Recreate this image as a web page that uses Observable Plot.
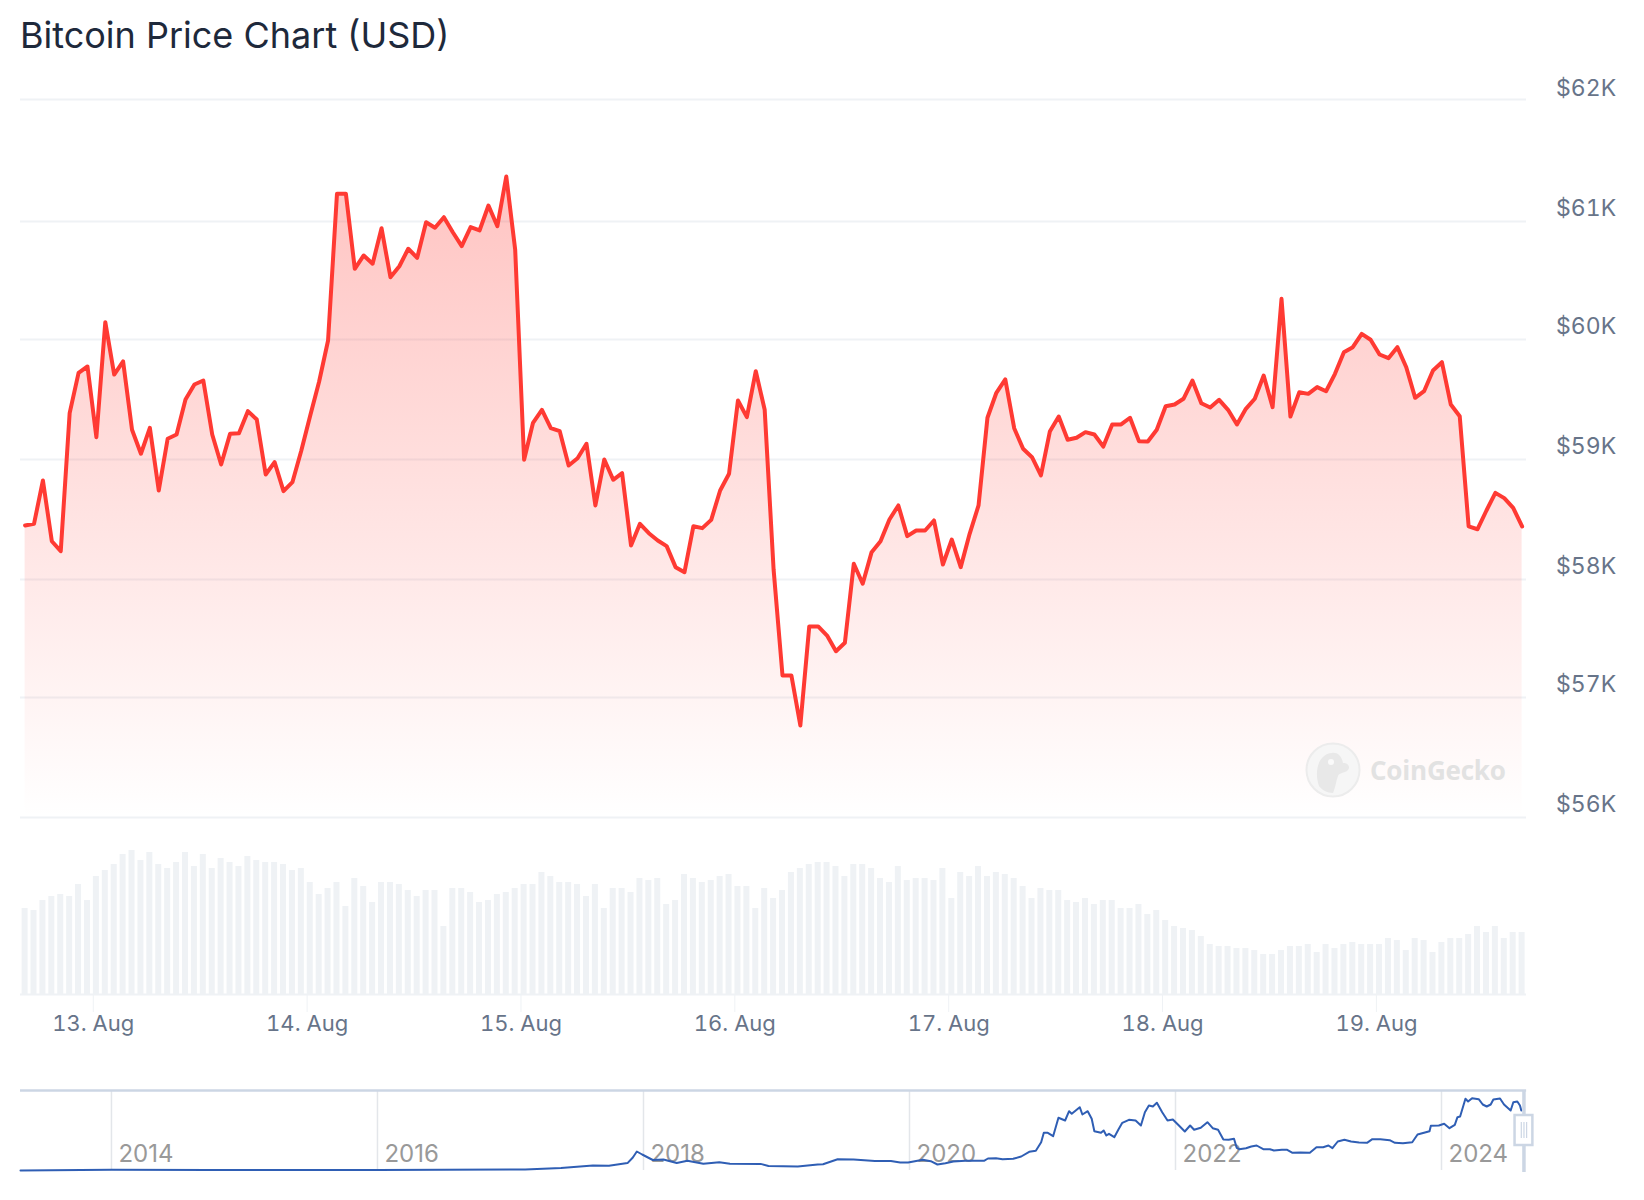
<!DOCTYPE html>
<html>
<head>
<meta charset="utf-8">
<title>Bitcoin Price Chart (USD)</title>
<script src="https://cdn.jsdelivr.net/npm/d3@7"></script>
<script src="https://cdn.jsdelivr.net/npm/@observablehq/plot@0.6"></script>
<style>
  html, body { margin: 0; padding: 0; background: #fff; overflow: hidden; }
  #wrap { position: relative; width: 1644px; height: 1200px; font-family: Inter, sans-serif; }
  #title { height: 70px; box-sizing: border-box; padding: 13px 0 0 20px; font-size: 36px; line-height: 44px; color: #1e293b; font-weight: 400; }
  #mark { position: absolute; left: 1305px; top: 742px; width: 210px; height: 56px; display: flex; align-items: center; }
  #mark span { font-family: "Open Sans", sans-serif; font-weight: 700; font-size: 26px; color: #e2e2e2; margin-left: 9px; letter-spacing: -0.2px; }
</style>
</head>
<body>
<div id="wrap">
  <div id="title">Bitcoin Price Chart (USD)</div>
  <div id="price"></div>
  <div id="volume"></div>
  <div id="navigator"></div>
  <div id="mark">
    <svg width="56" height="56" viewBox="0 0 56 56">
      <circle cx="28" cy="28" r="26.5" fill="#f6f6f6" stroke="#ececec" stroke-width="2"/>
      <path d="M14 44 C9 30 13 12 27 11 C33 10 37 15 38 21 C44 21 46 26 42 29 C38 31 34 31 33 34 C31 39 31 44 28 51 C22 51 17 48 14 44 Z" fill="#e8e8e8"/>
      <circle cx="26" cy="20" r="3" fill="#fafafa"/>
    </svg>
    <span>CoinGecko</span>
  </div>
</div>
<script>
const title = "Bitcoin Price Chart (USD)";

// Hourly Bitcoin price, in thousands of USD
const priceK = [
58.45,58.464,58.825,58.319,58.236,59.386,59.722,59.775,59.186,60.147,59.708,59.817,59.248,59.048,59.264,58.742,59.173,59.208,59.5,59.625,
59.658,59.208,58.958,59.214,59.219,59.403,59.333,58.875,58.978,58.736,58.811,59.075,59.367,59.65,59.992,61.227,61.227,60.599,60.712,60.642,
60.943,60.528,60.621,60.769,60.692,60.994,60.947,61.035,60.909,60.791,60.952,60.924,61.131,60.96,61.369,60.76,58.998,59.306,59.414,59.261,
59.236,58.95,59.011,59.131,58.617,59.0,58.831,58.886,58.283,58.464,58.386,58.325,58.278,58.103,58.061,58.444,58.428,58.497,58.742,58.881,
59.492,59.353,59.736,59.414,58.083,57.186,57.186,56.767,57.602,57.602,57.525,57.392,57.464,58.131,57.964,58.228,58.319,58.5,58.617,58.361,
58.408,58.408,58.492,58.125,58.333,58.103,58.381,58.617,59.348,59.556,59.667,59.261,59.089,59.019,58.867,59.233,59.358,59.164,59.181,59.228,
59.208,59.108,59.292,59.292,59.348,59.153,59.15,59.248,59.444,59.458,59.506,59.658,59.469,59.433,59.497,59.414,59.292,59.422,59.506,59.7,
59.436,60.345,59.358,59.561,59.547,59.603,59.569,59.714,59.894,59.936,60.048,59.998,59.875,59.844,59.936,59.769,59.514,59.569,59.742,59.811,
59.458,59.361,58.442,58.419,58.575,58.722,58.678,58.597,58.442];

// Hourly volume, in relative units
const volume = [
86,84,94,98,100,98,110,94,118,124,130,140,144,134,142,130,126,132,142,128,
140,126,136,132,128,138,134,132,132,130,124,126,112,100,106,112,88,116,108,92,
112,112,110,104,98,104,104,68,106,106,102,92,94,100,102,106,110,110,122,118,
112,112,110,98,110,86,106,106,102,116,114,116,90,94,120,116,112,114,118,120,
108,108,86,106,96,104,122,126,130,132,132,128,118,130,130,126,116,112,128,114,
116,116,114,126,96,122,118,128,118,122,120,116,108,96,106,104,104,94,92,96,
90,94,94,86,86,90,80,84,74,68,66,64,58,50,48,48,46,46,44,40,
40,44,48,48,50,42,50,46,50,52,50,50,50,56,54,44,56,54,42,52,
56,56,60,68,62,68,56,62,62];

const yTicksK = [56, 57, 58, 59, 60, 61, 62];
const dayTickDates = [13, 14, 15, 16, 17, 18, 19];

// Navigator: all-time price, decimal year and thousands of USD
const navYears = [
2013.316,2014,2014.74,2016,2017.11,2017.38,2017.62,2017.74,2017.88,2017.92,2017.95,2017.99,2018.07,2018.15,2018.25,2018.33,2018.45,2018.57,2018.65,2018.88,
2018.94,2019.16,2019.31,2019.35,2019.46,2019.58,2019.74,2019.86,2019.93,2019.99,2020.04,2020.10,2020.16,2020.21,2020.27,2020.33,2020.42,2020.56,2020.59,2020.65,
2020.70,2020.78,2020.84,2020.90,2020.95,2020.99,2021.01,2021.04,2021.08,2021.12,2021.17,2021.20,2021.22,2021.25,2021.28,2021.30,2021.34,2021.37,2021.39,2021.44,
2021.46,2021.48,2021.50,2021.54,2021.57,2021.60,2021.65,2021.70,2021.74,2021.77,2021.80,2021.83,2021.86,2021.90,2021.94,2021.98,2022.02,2022.07,2022.11,2022.14,
2022.19,2022.24,2022.28,2022.32,2022.36,2022.40,2022.44,2022.46,2022.48,2022.53,2022.57,2022.61,2022.66,2022.71,2022.74,2022.80,2022.84,2022.88,2022.94,2023.01,
2023.06,2023.11,2023.15,2023.18,2023.22,2023.27,2023.32,2023.38,2023.44,2023.48,2023.54,2023.61,2023.65,2023.71,2023.78,2023.82,2023.91,2023.92,2023.98,2024.02,
2024.06,2024.10,2024.12,2024.14,2024.18,2024.20,2024.23,2024.28,2024.31,2024.34,2024.37,2024.39,2024.44,2024.47,2024.52,2024.54,2024.57,2024.59,2024.60];
const navPriceK = [
0.1,0.8,0.5,0.4,1,2.5,5,4.8,7.4,13,19,16,10.5,11,7.5,9.7,6.7,8.2,6.7,6.6,
4.5,4,6,6.3,11.3,11,9.4,9.4,8,8,9.3,10.7,9.3,6,7.3,9,9.7,9.7,12,12.3,
11.3,11.7,14,18.7,19.7,28.3,37.7,37.7,34.3,52.7,50,59.3,56.7,60,63.3,56,59.3,51.7,39.3,37.7,
40,35,36.7,33.3,40.7,47.7,50.7,50,45,58.3,65,64,67.7,58.3,50,51,45.7,39,45,40.7,
42.7,48.3,42.3,40.7,31,30.7,31.7,22.7,21.3,22.3,24,25,21.3,21.3,20,20.7,20.7,17.7,18,17.7,
23.3,23.3,25,22.3,29,30.7,29,28,27.7,31.3,31.3,30.3,27.7,27.3,28.3,36,39.3,44.7,45,46.7,
42.3,45.7,53.3,54,71.7,69,72.3,71.3,66,64,66,71,72,66,60,68.3,69,65,60];
const navYearTicks = [2014, 2016, 2018, 2020, 2022, 2024];

// Colours and sizes
const gridColor = "#eff2f5", red = "#ff3a33", axisText = "#677489", navBlue = "#2f5eb4", navFrame = "#ccd6e4";

const hour = 3600e3;
const aug13 = Date.UTC(2024, 7, 13);
const timeOf = i => new Date(aug13 + (i - 7.65) * hour);
const t0 = timeOf(0), t1 = timeOf(priceK.length - 1);
const tLeft = timeOf(-0.52), tRight = timeOf(priceK.length - 1 + 0.5);
const prices = priceK.map((p, i) => ({time: timeOf(i), p}));
const volumes = volume.map((v, i) => ({a: timeOf(i - 0.337), b: timeOf(i + 0.337), v}));
const dayTicks = dayTickDates.map(d => new Date(Date.UTC(2024, 7, d)));
const nav = navYears.map((year, i) => ({year, p: navPriceK[i]}));

function gradientDefs() {
  const ns = "http://www.w3.org/2000/svg";
  const defs = document.createElementNS(ns, "defs");
  const g = document.createElementNS(ns, "linearGradient");
  g.setAttribute("id", "priceFill");
  g.setAttribute("x1", 0); g.setAttribute("x2", 0); g.setAttribute("y1", 0); g.setAttribute("y2", 1);
  [[0, 0.3], [1, 0]].forEach(([o, a]) => {
    const s = document.createElementNS(ns, "stop");
    s.setAttribute("offset", o); s.setAttribute("stop-color", red); s.setAttribute("stop-opacity", a);
    g.appendChild(s);
  });
  defs.appendChild(g);
  return defs;
}

const baseStyle = {fontFamily: "Inter, sans-serif", background: "transparent", overflow: "visible"};
const yAxisOptions = {anchor: "right", tickSize: 0, tickPadding: 34, fontSize: 23, fill: axisText, label: null, tickFormat: d => `$${d}K`};

const pricePlot = Plot.plot({
  width: 1644, height: 760, marginLeft: 24.6, marginRight: 122.4, marginTop: 0, marginBottom: 0,
  style: baseStyle,
  x: {type: "time", domain: [t0, t1], axis: null},
  y: {type: "linear", domain: yTicksK, range: [747, 627, 509, 389, 269, 151, 29], axis: null, label: null},
  marks: [
    gradientDefs,
    Plot.ruleY(yTicksK, {x1: () => tLeft, x2: () => tRight, stroke: gridColor, strokeWidth: 2}),
    Plot.areaY(prices, {x: "time", y1: () => 56, y2: "p", fill: "url(#priceFill)"}),
    Plot.line(prices, {x: "time", y: "p", stroke: red, strokeWidth: 4, strokeLinejoin: "round"}),
    Plot.axisY(yTicksK.slice(0, -1), {...yAxisOptions, dy: -13}),
    Plot.axisY(yTicksK.slice(-1), {...yAxisOptions, dy: -11})
  ]
});
document.getElementById("price").appendChild(pricePlot);

const volumePlot = Plot.plot({
  width: 1644, height: 250, marginLeft: 24.6, marginRight: 122.4, marginTop: 14, marginBottom: 86,
  style: baseStyle,
  x: {type: "time", domain: [t0, t1], axis: null},
  y: {domain: [0, 150], axis: null},
  marks: [
    Plot.rect(volumes, {x1: "a", x2: "b", y1: () => 0, y2: "v", fill: gridColor}),
    Plot.ruleY([0], {x1: () => tLeft, x2: () => tRight, stroke: gridColor, strokeWidth: 2}),
    Plot.axisX(dayTicks, {anchor: "bottom", tickSize: 18, tickPadding: 3, fontSize: 22, stroke: gridColor, fill: axisText, label: null,
      tickFormat: d3.utcFormat("%-d. %b")})
  ]
});
document.getElementById("volume").appendChild(volumePlot);

const navPlot = Plot.plot({
  width: 1644, height: 110, marginLeft: 20, marginRight: 123.2, marginTop: 10, marginBottom: 20,
  style: baseStyle,
  x: {domain: [2013.316, 2024.6], axis: null},
  y: {domain: [0, 80], axis: null},
  marks: [
    Plot.ruleX(navYearTicks, {y1: 0, y2: 80, stroke: "#e3e6ea", strokeWidth: 1.5}),
    Plot.text(navYearTicks, {x: d => d, y: () => 16, text: d => String(d), dx: 7, textAnchor: "start", fill: "#999", fontSize: 24}),
    Plot.ruleY([80], {x1: () => 2013.316, x2: () => 2024.64, stroke: navFrame, strokeWidth: 2.5}),
    Plot.line(nav, {x: "year", y: "p", stroke: navBlue, strokeWidth: 2}),
    Plot.ruleX([2024.62], {y1: () => -2, y2: () => 80, stroke: navFrame, strokeWidth: 3.5}),
    Plot.rect([{a: 2024.553, b: 2024.687, lo: 25, hi: 55}], {x1: "a", x2: "b", y1: "lo", y2: "hi", fill: "white", stroke: navFrame, strokeWidth: 2.5}),
    Plot.ruleX([2024.6, 2024.62, 2024.64], {y1: () => 32, y2: () => 48, stroke: navFrame, strokeWidth: 1.2})
  ]
});
document.getElementById("navigator").appendChild(navPlot);
</script>
</body>
</html>
